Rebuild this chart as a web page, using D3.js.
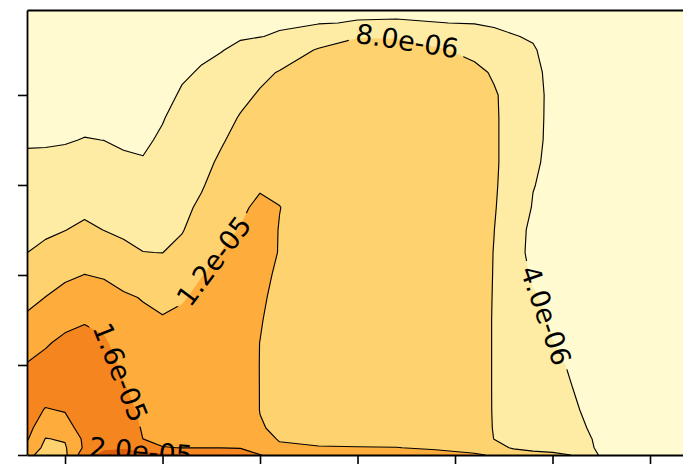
<!DOCTYPE html>
<html>
<head>
<meta charset="utf-8">
<script src="https://cdn.jsdelivr.net/npm/d3@7"></script>
<style>
  html, body { margin: 0; padding: 0; background: #ffffff; }
  svg { display: block; }
</style>
</head>
<body>
<svg id="chart" width="683" height="467"></svg>
<script>
// ---------------- data ----------------
const xTicks = [1, 2, 3, 4, 5, 6, 7];
const yTicks = [0, 1, 2, 3, 4];
const xDomain = [0.61, 7.4];
const yDomain = [0, 4.944];

// sample positions of the gridded field (data units)
const gridX = [0.61, 0.8, 1.0, 1.2, 1.4, 1.6, 1.8, 2.0, 2.2, 2.4, 2.6, 2.8, 3.0, 3.2,
               3.6, 4.0, 4.4, 4.8, 5.2, 5.4, 5.6, 5.8, 6.0, 6.2, 6.4, 6.8, 7.4];
const gridY = [4.944, 4.8, 4.65, 4.5, 4.25, 4.0, 3.75, 3.5, 3.25, 3.0, 2.75, 2.5,
               2.25, 2.0, 1.75, 1.5, 1.25, 1.0, 0.75, 0.5, 0.3, 0.18, 0.08, 0];

// field values (units of 1e-6), one vertical profile per gridX column, top to bottom
const valueUnit = 1e-6;
const profiles = [
  [2.0, 2.0, 2.1, 2.2, 2.4, 2.7, 3.1, 3.7, 4.5, 5.4, 6.3, 7.1, 7.98, 9.5, 11.0, 12.6, 14.4, 16.2, 17.0, 17.5, 17.3, 16.4, 15.0, 13.0],
  [2.0, 2.0, 2.1, 2.2, 2.4, 2.7, 3.1, 3.7, 4.6, 5.6, 6.5, 7.5, 8.7, 10.4, 12.05, 13.9, 15.7, 16.8, 17.6, 15.8, 13.4, 11.9, 11.0, 10.5],
  [2.0, 2.0, 2.1, 2.2, 2.4, 2.8, 3.2, 3.8, 4.8, 5.9, 6.9, 7.95, 9.6, 11.4, 13.2, 15.2, 16.6, 17.5, 17.8, 16.2, 14.7, 12.3, 11.6, 11.2],
  [2.0, 2.0, 2.1, 2.2, 2.4, 2.8, 3.3, 4.1, 5.15, 6.2, 7.3, 8.6, 10.3, 12.05, 13.9, 15.75, 17.0, 17.8, 18.2, 17.9, 17.4, 16.8, 16.6, 18.5],
  [2.0, 2.0, 2.1, 2.2, 2.4, 2.8, 3.3, 3.98, 4.97, 5.98, 6.9, 7.96, 9.75, 11.7, 13.3, 15.0, 16.5, 17.5, 18.2, 18.6, 18.8, 18.9, 19.5, 21.0],
  [2.0, 2.0, 2.1, 2.2, 2.4, 2.8, 3.2, 3.7, 4.36, 5.4, 6.4, 7.4, 8.85, 10.9, 12.4, 13.4, 14.35, 15.35, 16.3, 17.3, 17.9, 18.5, 19.8, 21.0],
  [2.0, 2.0, 2.1, 2.2, 2.4, 2.8, 3.2, 3.6, 4.17, 5.2, 6.1, 7.1, 8.04, 10.0, 11.85, 12.6, 13.2, 13.9, 14.5, 15.2, 15.7, 15.98, 19.0, 21.0],
  [2.1, 2.15, 2.25, 2.4, 2.7, 3.1, 3.85, 4.35, 5.0, 5.9, 6.6, 7.3, 7.97, 9.5, 11.0, 12.3, 12.9, 13.6, 14.2, 14.9, 15.4, 15.7, 16.05, 21.0],
  [2.3, 2.45, 2.7, 3.0, 3.6, 4.34, 4.9, 5.5, 6.1, 6.65, 7.2, 7.8, 8.95, 10.4, 11.8, 12.5, 13.1, 13.75, 14.35, 15.0, 15.5, 15.75, 15.98, 20.5],
  [2.5, 2.7, 3.1, 3.5, 4.25, 4.95, 5.6, 6.3, 7.0, 7.7, 8.6, 9.7, 10.8, 11.95, 12.5, 13.0, 13.5, 14.05, 14.6, 15.1, 15.5, 15.75, 15.97, 19.9],
  [2.8, 3.05, 3.45, 3.9, 4.8, 5.75, 6.7, 7.65, 8.55, 9.45, 10.3, 11.2, 12.05, 12.5, 12.95, 13.4, 13.85, 14.3, 14.75, 15.2, 15.55, 15.75, 15.95, 18.5],
  [3.1, 3.4, 3.8, 4.5, 5.75, 7.1, 8.25, 9.1, 9.9, 10.7, 11.45, 12.15, 12.5, 12.9, 13.3, 13.7, 14.1, 14.5, 14.9, 15.25, 15.55, 15.75, 15.9, 17.2],
  [3.3, 3.6, 3.95, 5.0, 7.2, 8.35, 9.1, 9.9, 10.5, 11.6, 12.7, 13.2, 13.3, 13.1, 12.8, 12.4, 11.95, 11.9, 11.9, 11.9, 12.3, 13.0, 14.5, 16.1],
  [3.45, 3.75, 4.2, 5.9, 8.2, 9.0, 9.6, 10.1, 10.6, 11.5, 12.05, 11.9, 11.85, 11.3, 10.6, 9.8, 9.8, 9.9, 10.1, 10.5, 11.3, 11.8, 12.4, 15.0],
  [3.4, 3.85, 5.9, 8.3, 9.4, 9.9, 10.2, 10.4, 10.5, 10.6, 10.6, 10.5, 10.3, 10.1, 9.9, 9.8, 9.8, 9.8, 9.9, 10.2, 10.7, 11.2, 12.2, 14.0],
  [3.5, 4.15, 7.86, 9.0, 9.7, 10.1, 10.4, 10.6, 10.7, 10.7, 10.7, 10.6, 10.5, 10.3, 10.1, 10.0, 10.0, 10.0, 10.1, 10.3, 10.7, 11.2, 12.1, 13.6],
  [3.55, 4.2, 7.8, 9.0, 9.8, 10.2, 10.5, 10.7, 10.8, 10.8, 10.8, 10.7, 10.6, 10.4, 10.2, 10.1, 10.1, 10.1, 10.2, 10.4, 10.7, 11.2, 12.05, 13.3],
  [3.4, 4.05, 6.3, 8.5, 9.6, 10.1, 10.4, 10.6, 10.7, 10.7, 10.7, 10.6, 10.5, 10.4, 10.3, 10.2, 10.2, 10.2, 10.3, 10.4, 10.7, 11.1, 11.7, 12.8],
  [3.3, 3.9, 5.3, 7.0, 8.9, 9.6, 9.9, 10.0, 10.1, 10.1, 10.0, 10.0, 9.9, 9.9, 9.8, 9.8, 9.8, 9.8, 9.8, 9.9, 10.1, 10.5, 11.2, 12.25],
  [3.2, 3.7, 4.6, 5.8, 7.6, 8.35, 8.4, 8.4, 8.4, 8.35, 8.25, 8.05, 7.9, 7.85, 7.8, 7.75, 7.75, 7.75, 7.75, 7.75, 7.8, 7.95, 9.0, 11.8],
  [3.0, 3.5, 4.1, 5.0, 6.3, 6.7, 6.8, 6.8, 6.8, 6.55, 6.1, 5.5, 5.3, 5.6, 6.0, 6.3, 6.5, 6.7, 6.85, 7.0, 7.1, 7.3, 7.7, 9.8],
  [2.7, 3.1, 3.8, 4.2, 4.6, 4.8, 4.75, 4.7, 4.45, 4.1, 3.8, 3.2, 3.1, 3.6, 4.3, 4.9, 5.3, 5.6, 5.9, 6.1, 6.3, 6.4, 7.0, 9.2],
  [2.4, 2.7, 3.0, 3.2, 3.35, 3.4, 3.4, 3.35, 3.3, 3.3, 3.15, 3.0, 3.0, 3.1, 3.35, 3.7, 4.05, 4.5, 4.9, 5.2, 5.5, 5.7, 6.6, 8.8],
  [2.2, 2.4, 2.6, 2.8, 3.0, 3.1, 3.1, 3.1, 3.05, 3.0, 2.9, 2.85, 2.85, 2.9, 3.05, 3.25, 3.5, 3.75, 4.02, 4.4, 4.8, 5.1, 5.7, 7.95],
  [2.1, 2.25, 2.4, 2.55, 2.7, 2.8, 2.85, 2.85, 2.8, 2.75, 2.7, 2.65, 2.65, 2.7, 2.8, 2.9, 3.05, 3.2, 3.3, 3.4, 3.75, 4.02, 4.1, 4.3],
  [2.0, 2.1, 2.2, 2.3, 2.4, 2.45, 2.5, 2.5, 2.5, 2.45, 2.4, 2.4, 2.4, 2.4, 2.45, 2.5, 2.55, 2.6, 2.6, 2.6, 2.6, 2.6, 2.6, 2.6],
  [1.9, 1.95, 2.0, 2.05, 2.1, 2.15, 2.2, 2.2, 2.2, 2.2, 2.15, 2.15, 2.15, 2.15, 2.2, 2.2, 2.25, 2.3, 2.3, 2.3, 2.3, 2.3, 2.3, 2.3]
];

const levels = [4e-6, 8e-6, 1.2e-5, 1.6e-5, 2.0e-5];
const levelLabels = ["4.0e-06", "8.0e-06", "1.2e-05", "1.6e-05", "2.0e-05"];
const bandColors = ["#FFFACF", "#FEECA4", "#FED26F", "#FEAD3C", "#F5861F", "#DC5E0B"];

// approximate anchor (data units) of each inline contour label
const labelHints = [
  { level: 1, x: 4.52, y: 4.644 },
  { level: 0, x: 5.872, y: 1.522 },
  { level: 2, x: 2.508, y: 2.167 },
  { level: 3, x: 1.585, y: 0.922 },
  { level: 4, x: 1.78, y: 0.05 }
];

// ---------------- layout ----------------
const W = 683, H = 467;
const x = d3.scaleLinear().domain(xDomain).range([27, 689]);
const y = d3.scaleLinear().domain(yDomain).range([455, 10]);
const plotL = x(xDomain[0]), plotR = x(xDomain[1]);
const plotT = y(yDomain[1]), plotB = y(yDomain[0]);

const svg = d3.select("#chart");
const defs = svg.append("defs");
defs.append("clipPath").attr("id", "plotClip")
  .append("rect").attr("x", plotL).attr("y", plotT)
  .attr("width", plotR - plotL).attr("height", plotB - plotT);

// ---------------- contours ----------------
const n = gridX.length, m = gridY.length;
const values = new Array(n * m);
for (let j = 0; j < m; j++)
  for (let i = 0; i < n; i++)
    values[j * n + i] = profiles[i][j] * valueUnit;

const contourSets = d3.contours().size([n, m]).thresholds(levels)(values);

const colX = d3.scaleLinear().domain(d3.range(n)).range(gridX).clamp(true);
const rowY = d3.scaleLinear().domain(d3.range(m)).range(gridY).clamp(true);
const toPx = p => [x(colX(p[0] - 0.5)), y(rowY(p[1] - 0.5))];

const plot = svg.append("g").attr("clip-path", "url(#plotClip)");
plot.append("rect")
  .attr("x", plotL).attr("y", plotT)
  .attr("width", plotR - plotL).attr("height", plotB - plotT)
  .attr("fill", bandColors[0]);

const fillLayer = plot.append("g");
contourSets.forEach((c, k) => {
  const d = c.coordinates.map(poly =>
    poly.map(ring => "M" + ring.map(p => toPx(p).join(",")).join("L") + "Z").join("")
  ).join("");
  fillLayer.append("path")
    .attr("d", d)
    .attr("fill", bandColors[k + 1])
    .attr("fill-rule", "evenodd");
});

// iso-lines without the plot-border segments
function isoLines(contour) {
  const lines = [];
  const edge = p => ({ l: p[0] <= 0.5, r: p[0] >= n - 0.5, t: p[1] <= 0.5, b: p[1] >= m - 0.5 });
  const onBorder = (a, b) => {
    const A = edge(a), B = edge(b);
    return (A.l && B.l) || (A.r && B.r) || (A.t && B.t) || (A.b && B.b);
  };
  contour.coordinates.forEach(poly => poly.forEach(ring => {
    const pts = ring.slice();
    const last = pts[pts.length - 1];
    if (pts.length > 1 && pts[0][0] === last[0] && pts[0][1] === last[1]) pts.pop();
    const L = pts.length;
    if (L < 2) return;
    let start = -1;
    for (let i = 0; i < L; i++) {
      if (onBorder(pts[i], pts[(i + 1) % L])) { start = (i + 1) % L; break; }
    }
    if (start < 0) { lines.push(pts.concat([pts[0]]).map(toPx)); return; }
    let cur = [];
    for (let s = 0; s < L; s++) {
      const i = (start + s) % L, j = (i + 1) % L;
      if (onBorder(pts[i], pts[j])) {
        if (cur.length > 1) lines.push(cur.map(toPx));
        cur = [];
      } else {
        if (cur.length === 0) cur.push(pts[i]);
        cur.push(pts[j]);
      }
    }
    if (cur.length > 1) lines.push(cur.map(toPx));
  }));
  return lines;
}

const levelLines = contourSets.map(isoLines);

function placeOnLine(lines, hx, hy) {
  let best = null;
  lines.forEach(line => {
    const samples = [];
    for (let i = 0; i < line.length - 1; i++) {
      const [x0, y0] = line[i], [x1, y1] = line[i + 1];
      const steps = Math.max(1, Math.ceil(Math.hypot(x1 - x0, y1 - y0)));
      for (let s = 0; s < steps; s++)
        samples.push([x0 + (x1 - x0) * s / steps, y0 + (y1 - y0) * s / steps]);
    }
    samples.push(line[line.length - 1]);
    samples.forEach((p, idx) => {
      const dd = Math.hypot(p[0] - hx, p[1] - hy);
      if (!best || dd < best.d) best = { d: dd, idx, samples };
    });
  });
  if (!best) return null;
  const { idx, samples } = best;
  const a = samples[Math.max(0, idx - 25)];
  const b = samples[Math.min(samples.length - 1, idx + 25)];
  let ang = Math.atan2(b[1] - a[1], b[0] - a[0]) * 180 / Math.PI;
  if (ang > 90) ang -= 180;
  if (ang <= -90) ang += 180;
  return { x: samples[idx][0], y: samples[idx][1], angle: ang };
}

// masks that open gaps in each level's line under its label
const masks = levels.map((lv, k) => {
  const mk = defs.append("mask").attr("id", "lineMask" + k)
    .attr("maskUnits", "userSpaceOnUse")
    .attr("x", 0).attr("y", 0).attr("width", W).attr("height", H);
  mk.append("rect").attr("width", W).attr("height", H).attr("fill", "#fff");
  return mk;
});

const lineGen = d3.line();
const lineLayer = plot.append("g");
const labelLayer = plot.append("g");

const fontSize = 27;
labelHints.forEach(h => {
  const pos = placeOnLine(levelLines[h.level], x(h.x), y(h.y));
  if (!pos) return;
  const t = labelLayer.append("text")
    .attr("transform", `translate(${pos.x},${pos.y}) rotate(${pos.angle})`)
    .attr("text-anchor", "middle")
    .attr("dominant-baseline", "central")
    .attr("font-family", "DejaVu Sans, sans-serif")
    .attr("font-size", fontSize)
    .attr("fill", "#000")
    .text(levelLabels[h.level]);
  const tw = t.node().getComputedTextLength();
  masks[h.level].append("rect")
    .attr("x", -tw / 2 - 6).attr("y", -12)
    .attr("width", tw + 12).attr("height", 24)
    .attr("transform", `translate(${pos.x},${pos.y}) rotate(${pos.angle})`)
    .attr("fill", "#000");
});

levelLines.forEach((lines, k) => {
  const g = lineLayer.append("g").attr("mask", `url(#lineMask${k})`);
  lines.forEach(line => {
    g.append("path")
      .attr("d", lineGen(line))
      .attr("fill", "none")
      .attr("stroke", "#000")
      .attr("stroke-width", 1.15)
      .attr("stroke-linejoin", "round");
  });
});

// ---------------- axes ----------------
const styleAxis = g => {
  g.select(".domain").attr("stroke", "#000").attr("stroke-width", 1.8);
  g.selectAll(".tick line").attr("stroke", "#000").attr("stroke-width", 1.6);
  g.selectAll(".tick text").remove();
};
svg.append("g").attr("transform", `translate(${plotL},0)`)
  .call(d3.axisLeft(y).tickValues(yTicks).tickSize(9).tickSizeOuter(0).tickFormat(""))
  .call(styleAxis);
svg.append("g").attr("transform", `translate(0,${plotB})`)
  .call(d3.axisBottom(x).tickValues(xTicks).tickSize(9).tickSizeOuter(0).tickFormat(""))
  .call(styleAxis);
svg.append("g").attr("transform", `translate(0,${plotT})`)
  .call(d3.axisTop(x).tickValues([]).tickSizeOuter(0))
  .call(styleAxis);
</script>
</body>
</html>
